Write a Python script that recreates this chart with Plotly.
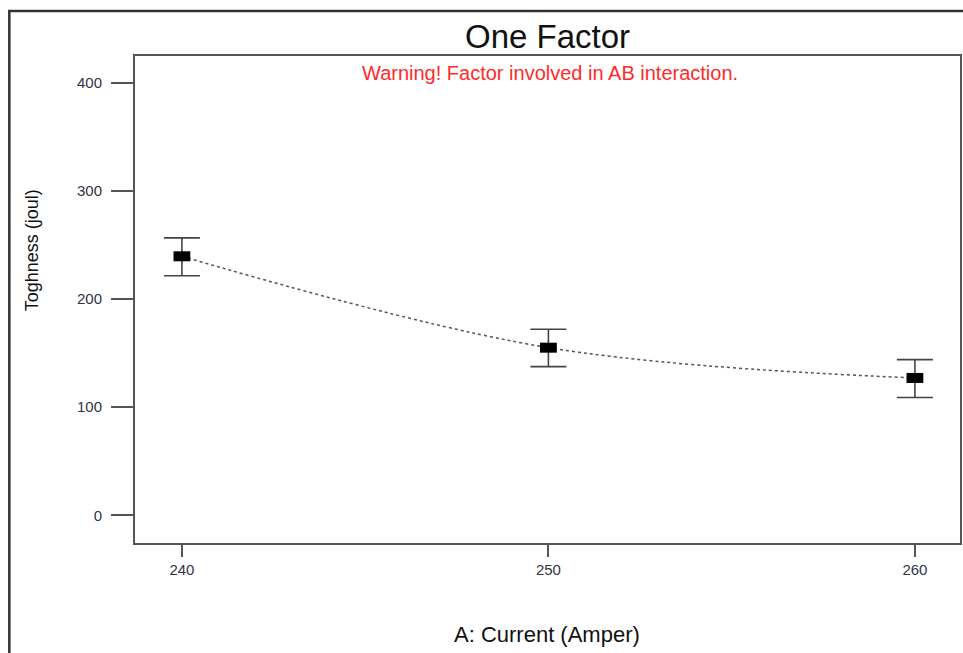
import plotly.graph_objects as go

# Data
current = [240, 250, 260]
toughness = [239.5, 155.0, 127.0]
err_upper = [256.5, 172.0, 144.0]
err_lower = [221.5, 137.5, 109.0]
x_ticks = [240, 250, 260]
y_ticks = [0, 100, 200, 300, 400]

err_plus = [u - m for u, m in zip(err_upper, toughness)]
err_minus = [m - l for m, l in zip(toughness, err_lower)]

W, H = 963, 653
L, T = 135, 56
R = W - 962
B = H - 543
pw, ph = W - L - R, H - T - B

def sx(px):
    return (px - L) / pw

def sy(py):
    return (H - B - py) / ph

fig = go.Figure()

# prediction line (dashed, smooth)
fig.add_trace(go.Scatter(
    x=current, y=toughness, mode="lines",
    line=dict(color="#555555", width=1.5, dash="3px,3px", shape="spline"),
    hoverinfo="skip", showlegend=False,
))

# error bars + rectangular markers
fig.add_trace(go.Scatter(
    x=current, y=toughness, mode="markers",
    marker=dict(symbol="line-ew", size=12, color="black",
                line=dict(color="black", width=10)),
    error_y=dict(type="data", symmetric=False, array=err_plus, arrayminus=err_minus,
                 color="#444444", thickness=1.6, width=18),
    showlegend=False,
))

font_family = "Liberation Sans, Arial, sans-serif"

fig.update_layout(
    width=W, height=H,
    margin=dict(l=L, r=R, t=T, b=B),
    paper_bgcolor="white", plot_bgcolor="white",
    font=dict(family=font_family, color="#222222"),
    showlegend=False,
)

fig.update_xaxes(
    range=[238.72, 261.23], tickvals=x_ticks, ticktext=[str(v) for v in x_ticks],
    showgrid=False, zeroline=False,
    showline=True, linecolor="#555555", linewidth=2, mirror=True,
    ticks="outside", ticklen=12, tickwidth=2, tickcolor="#555555",
    tickfont=dict(size=15, color="#333344"),
)
fig.update_yaxes(
    range=[-25.6, 424.7], tickvals=y_ticks, ticktext=[str(v) for v in y_ticks],
    showgrid=False, zeroline=False,
    showline=True, linecolor="#555555", linewidth=2, mirror=True,
    ticks="outside", ticklen=22, tickwidth=2, tickcolor="#555555",
    tickfont=dict(size=15, color="#333344"), ticklabelstandoff=6,
)

# title, warning, axis titles
fig.add_annotation(text="One Factor",
                   x=sx(548), y=sy(36), xref="paper", yref="paper",
                   showarrow=False, xanchor="center", yanchor="middle",
                   font=dict(size=33, color="#111111", family=font_family))
fig.add_annotation(text="Warning! Factor involved in AB interaction.",
                   x=sx(551), y=sy(73), xref="paper", yref="paper",
                   showarrow=False, xanchor="center", yanchor="middle",
                   font=dict(size=20, color="#ff2a2a", family=font_family))
fig.add_annotation(text="A: Current (Amper)",
                   x=sx(548), y=sy(634), xref="paper", yref="paper",
                   showarrow=False, xanchor="center", yanchor="middle",
                   font=dict(size=22, color="#111111", family=font_family))
fig.add_annotation(text="Toghness (joul)", textangle=-90,
                   x=sx(32), y=sy(250), xref="paper", yref="paper",
                   showarrow=False, xanchor="center", yanchor="middle",
                   font=dict(size=18, color="#111111", family=font_family))

# outer frame (left and top edges visible; right/bottom run off the picture)
fig.add_shape(type="rect", xref="paper", yref="paper",
              x0=sx(9), x1=sx(990),
              y0=sy(690), y1=sy(11),
              line=dict(color="#333333", width=2.5), fillcolor="rgba(0,0,0,0)",
              layer="above")

fig.write_html(
    "out.html",
    config={"displayModeBar": False},
    post_script="document.body.style.margin='0';document.body.style.overflow='hidden';",
)
